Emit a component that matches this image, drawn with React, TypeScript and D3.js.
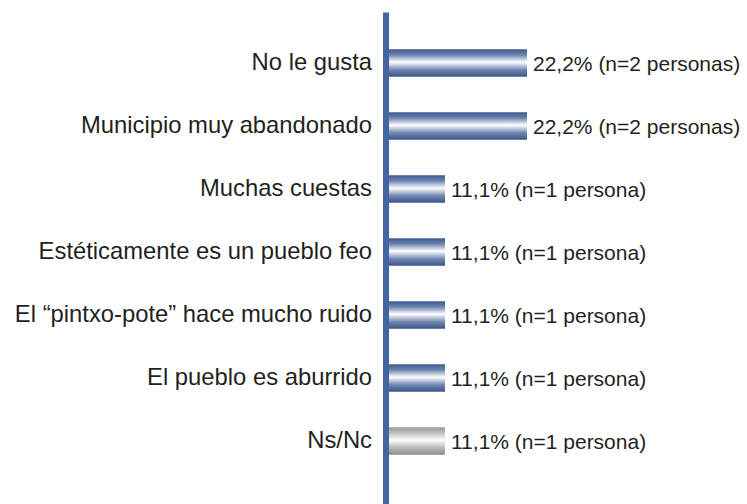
import React from "react";
import * as d3 from "d3";

const categories = [
  "No le gusta",
  "Municipio muy abandonado",
  "Muchas cuestas",
  "Estéticamente es un pueblo feo",
  "El “pintxo-pote” hace mucho ruido",
  "El pueblo es aburrido",
  "Ns/Nc",
];
const percents = [22.2, 22.2, 11.1, 11.1, 11.1, 11.1, 11.1];
const counts = [2, 2, 1, 1, 1, 1, 1];
const kinds = ["blue", "blue", "blue", "blue", "blue", "blue", "gray"];

const W = 747;
const H = 504;

export default function App() {
  const axisX = 386;
  const y = d3.scaleBand<string>().domain(categories).range([31.5, 472.5]).padding(0);
  const x = d3.scaleLinear().domain([0, 22.2]).range([363, 527]);
  const barH = 27.5;
  const fmt = (v: number) => v.toFixed(1).replace(".", ",");
  const font = "Liberation Sans, Arial, Helvetica, sans-serif";

  return (
    <svg
      width={W}
      height={H}
      style={{ position: "absolute", left: 0, top: 0, background: "#fff" }}
    >
      <defs>
        <linearGradient id="gBlue" x1="0" y1="0" x2="0" y2="1">
          <stop offset="0" stopColor="#3d5a8e" />
          <stop offset="0.2" stopColor="#6a82b0" />
          <stop offset="0.47" stopColor="#ffffff" />
          <stop offset="0.75" stopColor="#7086b2" />
          <stop offset="1" stopColor="#3a5587" />
        </linearGradient>
        <linearGradient id="gGray" x1="0" y1="0" x2="0" y2="1">
          <stop offset="0" stopColor="#9a9a9a" />
          <stop offset="0.2" stopColor="#c0c0c0" />
          <stop offset="0.47" stopColor="#ffffff" />
          <stop offset="0.75" stopColor="#b8b8b8" />
          <stop offset="1" stopColor="#8c8c8c" />
        </linearGradient>
      </defs>
      {categories.map((c, i) => {
        const cy = (y(c) as number) + y.bandwidth() / 2;
        const x1 = x(percents[i]);
        const n = counts[i];
        return (
          <g key={c}>
            <rect
              x={axisX}
              y={cy - barH / 2}
              width={x1 - axisX}
              height={barH}
              fill={kinds[i] === "gray" ? "url(#gGray)" : "url(#gBlue)"}
            />
            <text
              x={372}
              y={cy + 6.5}
              textAnchor="end"
              fontFamily={font}
              fontSize={23.8}
              fill="#231f20"
            >
              {c}
            </text>
            <text
              x={x1 + 6}
              y={cy + 7.7}
              fontFamily={font}
              fontSize={21}
              fill="#231f20"
            >
              {`${fmt(percents[i])}% (n=${n} ${n === 1 ? "persona" : "personas"})`}
            </text>
          </g>
        );
      })}
      <line x1={axisX} x2={axisX} y1={12.5} y2={H} stroke="#4465a0" strokeWidth={6} />
    </svg>
  );
}
